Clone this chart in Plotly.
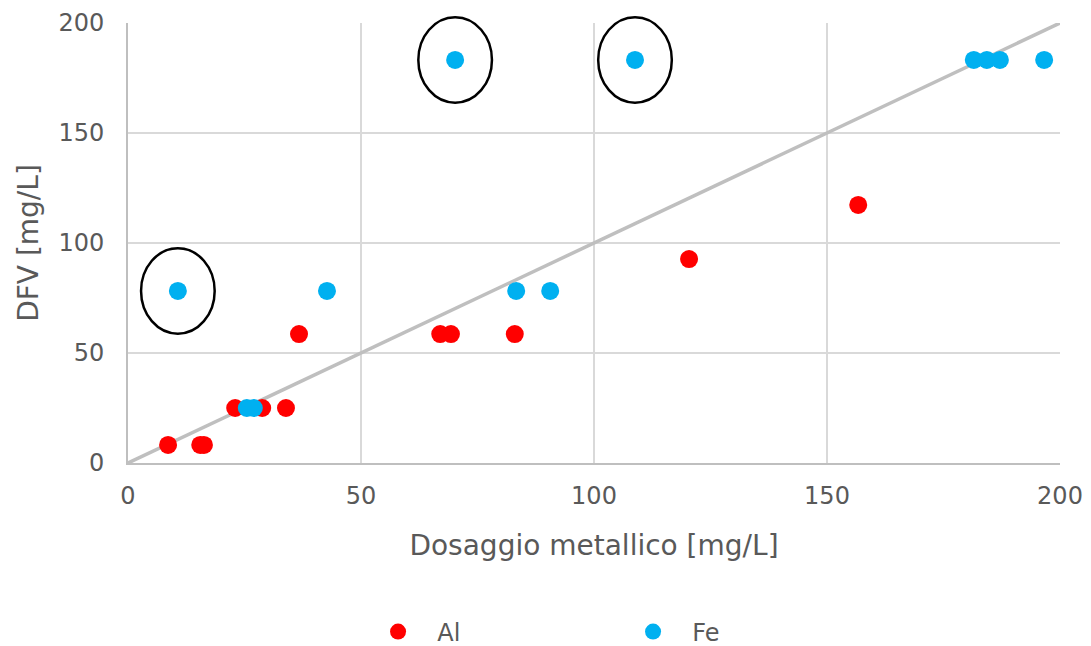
import plotly.graph_objects as go

al_x = [8.6, 15.5, 16.3, 23.0, 28.8, 33.9, 36.7, 67.0, 69.3, 83.0, 120.4, 156.7]
al_y = [8.2, 8.2, 8.2, 25.0, 25.0, 25.0, 58.6, 58.6, 58.6, 58.6, 92.7, 117.3]
fe_x = [10.7, 25.5, 27.0, 42.7, 83.3, 90.6, 70.2, 108.8, 181.5, 184.3, 187.1, 196.6]
fe_y = [78.2, 25.0, 25.0, 78.2, 78.2, 78.2, 183.2, 183.2, 183.2, 183.2, 183.2, 183.2]
circled_x = [10.7, 70.2, 108.8]
circled_y = [78.2, 183.2, 183.2]
line_x = [0, 200]
line_y = [0, 200]
tick_vals = [0, 50, 100, 150, 200]

font = "DejaVu Sans"
gray = "#595959"
pad = "\u00a0\u00a0"

fig = go.Figure()
fig.add_trace(go.Scatter(x=line_x, y=line_y, mode="lines",
                         line=dict(color="#BFBFBF", width=3.5), showlegend=False, hoverinfo="skip"))
fig.add_trace(go.Scatter(x=al_x, y=al_y, mode="markers", name=pad + "Al",
                         marker=dict(color="#FF0000", size=18)))
fig.add_trace(go.Scatter(x=fe_x, y=fe_y, mode="markers", name=pad + "Fe",
                         marker=dict(color="#00B0F0", size=18)))

ymax = 200.0
for cx, cy in zip(circled_x, circled_y):
    yc = cy / ymax
    fig.add_shape(type="circle", xref="x", yref="paper",
                  x0=cx - 7.9, x1=cx + 7.9, y0=yc - 0.097, y1=yc + 0.097,
                  line=dict(color="black", width=2.5), layer="above")

fig.update_layout(
    width=1083, height=638,
    margin=dict(l=120, r=31, t=15, b=183, autoexpand=False),
    plot_bgcolor="white", paper_bgcolor="white",
    font=dict(family=font, color=gray, size=24),
    legend=dict(orientation="h", x=0.264, xanchor="left", y=-0.384, yanchor="middle",
                entrywidth=202, itemwidth=38, font=dict(size=24, color=gray), itemsizing="trace"),
    xaxis=dict(range=[0, 200], tickvals=tick_vals, showgrid=True, gridcolor="#D9D9D9", gridwidth=2,
               zeroline=False, showline=True, linecolor="#BFBFBF", linewidth=2, automargin=False,
               ticks="", ticklabelstandoff=10, tickfont=dict(size=24, color=gray),
               title=dict(text="Dosaggio metallico [mg/L]", font=dict(size=28, color=gray), standoff=27)),
    yaxis=dict(range=[0, 200], tickvals=tick_vals, showgrid=True, gridcolor="#D9D9D9", gridwidth=2,
               zeroline=False, showline=True, linecolor="#BFBFBF", linewidth=2, automargin=False,
               ticks="", ticklabelstandoff=17, tickfont=dict(size=24, color=gray),
               title=dict(text="DFV [mg/L]", font=dict(size=28, color=gray), standoff=12)),
)

fig.write_html("out.html")
